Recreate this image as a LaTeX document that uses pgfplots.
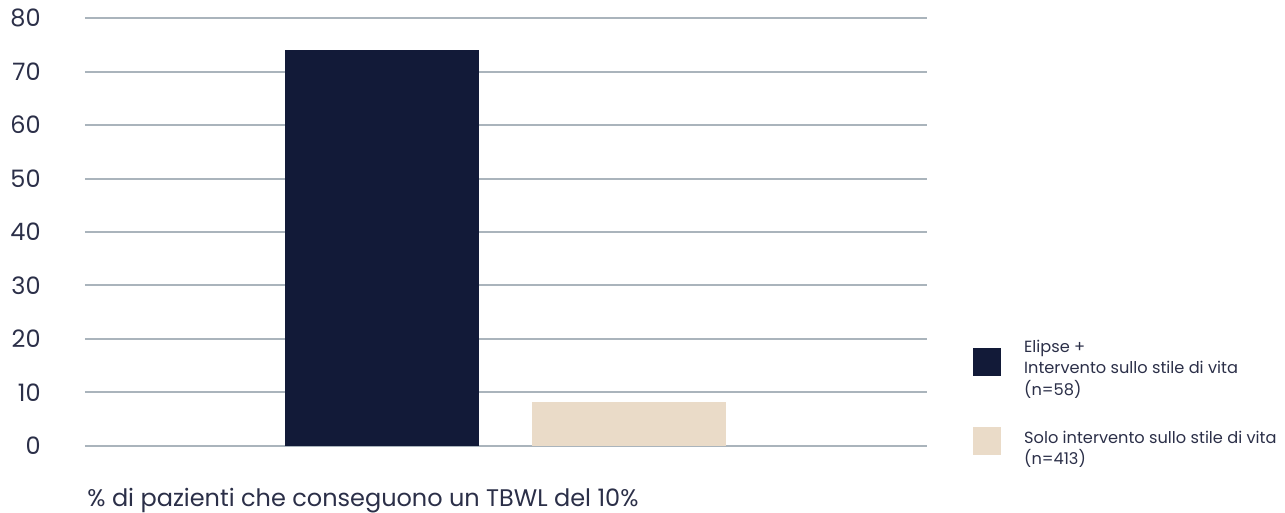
\documentclass[border=0pt]{standalone}
\usepackage{pgfplots}
\pgfplotsset{compat=1.18}
\usepackage{fontspec}
\setmainfont{Poppins}
\definecolor{navy}{HTML}{121A38}
\definecolor{beige}{HTML}{EADBC8}
\definecolor{gridc}{HTML}{AAB4BC}
\definecolor{txt}{HTML}{2B2F48}
\begin{document}
\begin{tikzpicture}
\path[use as bounding box] (-42.5pt,-33.65pt) rectangle (600pt,222.85pt);
\begin{axis}[
 at={(0,0)}, anchor=south west,
 scale only axis, width=421pt, height=213.7pt,
 xmin=85, xmax=927, ymin=0, ymax=80,
 ytick={0,10,...,80}, xtick=\empty,
 axis line style={draw=none},
 major tick length=0pt,
 ymajorgrids, grid style={gridc, line width=1pt},
 yticklabel style={anchor=east, inner sep=0pt, xshift=-22pt, font=\fontsize{12}{14}\selectfont, text=txt},
 /pgf/number format/assume math mode=true,
 clip=false,
 legend style={at={(rel axis cs:1.0546,0.258)}, anchor=north west, draw=none, fill=none, font=\fontsize{8.1}{10.75}\selectfont, text=txt, cells={anchor=west, align=left}, row sep=12.3pt, inner sep=0pt},
]
\addplot[ybar, bar width=194, bar shift=0, fill=navy, draw=none, forget plot] coordinates {(382,74)};
\addplot[ybar, bar width=194, bar shift=0, fill=beige, draw=none, forget plot] coordinates {(629,8.2)};
\addlegendimage{legend image code/.code={\fill[navy] (0pt,-3.45pt) rectangle (13.5pt,10.05pt); \path (0pt,-10.05pt) (23pt,10.05pt);}}
\addlegendentry{Elipse +\\Intervento sullo stile di vita\\(n=58)}
\addlegendimage{legend image code/.code={\fill[beige] (0pt,-2.55pt) rectangle (13.5pt,10.95pt); \path (0pt,-10.95pt) (23pt,10.95pt);}}
\addlegendentry{Solo intervento sullo stile di vita\\(n=413)}
\end{axis}
\node[anchor=base west, inner sep=0pt, font=\fontsize{12}{14}\selectfont, text=txt] at (1pt,-30.4pt) {\% di pazienti che conseguono un TBWL del 10\%};
\end{tikzpicture}
\end{document}
